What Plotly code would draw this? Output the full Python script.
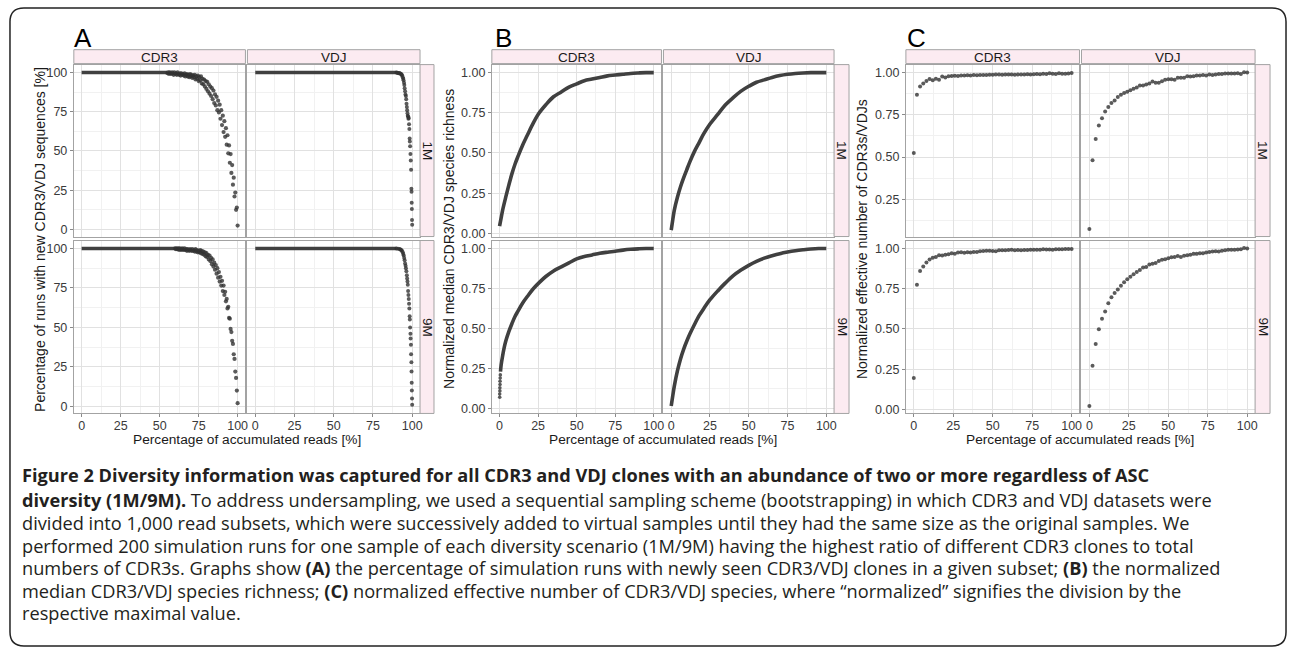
import plotly.graph_objects as go

# ---------------- data ----------------
FACET_COLS = ["CDR3", "VDJ"]
FACET_ROWS = ["1M", "9M"]
PANEL_LETTERS = ["A", "B", "C"]
X_TICKS = [0, 25, 50, 75, 100]
X_TITLE = "Percentage of accumulated reads [%]"
Y_TITLES = ["Percentage of runs with new CDR3/VDJ sequences [%]",
            "Normalized median CDR3/VDJ species richness",
            "Normalized effective number of CDR3s/VDJs"]
A_Y_TICKS = [0, 25, 50, 75, 100]
BC_Y_TICKS = [0, 0.25, 0.5, 0.75, 1.0]

# Panel A: percentage of runs with new sequences
A_CDR3_1M_FLAT_X = [0, 55]
A_CDR3_1M_FLAT_Y = [100, 100]
A_CDR3_1M_X = [55, 55.5, 56, 56.5, 57, 57.5, 58, 58.5, 59, 59.5,
               60, 60.5, 61, 61.5, 62, 62.5, 63, 63.5, 64, 64.5,
               65, 65.5, 66, 66.5, 67, 67.5, 68, 68.5, 69, 69.5,
               70, 70.5, 71, 71.5, 72, 72.5, 73, 73.5, 74, 74.5,
               75, 75.5, 76, 76.5, 77, 77.5, 78, 78.5, 79, 79.5,
               80, 80.5, 81, 81.5, 82, 82.5, 83, 83.5, 84, 84.5,
               85, 85.5, 86, 86.5, 87, 87.5, 88, 88.5, 89, 89.5,
               90, 90.5, 91, 91.5, 92, 92.5, 93, 93.5, 94, 94.5,
               95, 95.5, 96, 96.5, 97, 97.5, 98, 98.5, 99, 99.5,
               100]
A_CDR3_1M_Y = [99.5, 100, 99.0, 100, 99.5, 99.0, 100, 99.5, 98.5, 100,
               99.0, 99.5, 98.5, 100, 99.0, 98.5, 99.5, 98.0, 99.5, 98.5,
               99.0, 98.0, 99.5, 97.5, 98.5, 99.0, 97.5, 98.5, 97.0, 99.0,
               97.5, 98.5, 96.5, 98.0, 97.0, 98.5, 95.5, 97.5, 96.0, 98.0,
               94.5, 97.0, 95.0, 97.5, 93.0, 96.0, 92.5, 95.5, 91.0, 94.5,
               89.5, 94.0, 88.0, 92.5, 86.5, 91.0, 85.0, 90.0, 83.0, 88.5,
               80.5, 86.0, 79.0, 84.5, 76.0, 82.0, 74.5, 79.5, 70.5, 76.0,
               66.5, 72.5, 62.0, 69.0, 59.0, 64.5, 54.0, 60.0, 48.5, 53.5,
               42.5, 48.0, 36.0, 41.0, 28.5, 33.0, 21.0, 23.5, 12.5, 14.0,
               2.5]
A_CDR3_9M_FLAT_X = [0, 60]
A_CDR3_9M_FLAT_Y = [100, 100]
A_CDR3_9M_X = [60, 60.5, 61, 61.5, 62, 62.5, 63, 63.5, 64, 64.5,
               65, 65.5, 66, 66.5, 67, 67.5, 68, 68.5, 69, 69.5,
               70, 70.5, 71, 71.5, 72, 72.5, 73, 73.5, 74, 74.5,
               75, 75.5, 76, 76.5, 77, 77.5, 78, 78.5, 79, 79.5,
               80, 80.5, 81, 81.5, 82, 82.5, 83, 83.5, 84, 84.5,
               85, 85.5, 86, 86.5, 87, 87.5, 88, 88.5, 89, 89.5,
               90, 90.5, 91, 91.5, 92, 92.5, 93, 93.5, 94, 94.5,
               95, 95.5, 96, 96.5, 97, 97.5, 98, 98.5, 99, 99.5,
               100]
A_CDR3_9M_Y = [100, 99.5, 100, 99.5, 100, 99.0, 100, 99.5, 99.0, 100,
               99.5, 99.0, 100, 99.0, 99.5, 98.5, 99.5, 99.0, 98.5, 99.5,
               99.0, 98.5, 99.5, 98.5, 99.0, 98.0, 99.5, 98.0, 99.0, 97.5,
               98.5, 97.5, 99.0, 97.0, 98.5, 96.5, 98.0, 96.0, 97.5, 95.0,
               97.0, 94.5, 96.0, 93.0, 95.5, 92.0, 94.0, 90.0, 93.0, 88.5,
               91.0, 86.5, 89.5, 84.0, 87.5, 81.5, 85.0, 79.0, 82.0, 76.5,
               79.5, 73.0, 76.5, 70.5, 72.5, 66.5, 68.0, 62.0, 63.0, 56.0,
               55.5, 49.0, 47.0, 41.5, 39.5, 33.0, 30.0, 22.0, 18.0, 10.0,
               2.0]
A_VDJ_1M_FLAT_X = [0, 90]
A_VDJ_1M_FLAT_Y = [100, 100]
A_VDJ_1M_X = [90, 90.5, 91, 91.5, 92, 92.5, 93, 93.3, 93.6, 94,
              94.3, 94.5, 94.8, 95, 95.2, 95.5, 95.7, 96, 96.2, 96.4,
              96.6, 96.8, 97, 97.2, 97.4, 97.6, 97.8, 98, 98.2, 98.4,
              98.5, 98.7, 98.9, 99.1, 99.3, 99.5, 99.6, 99.7, 99.8, 99.9,
              100]
A_VDJ_1M_Y = [100, 99.8, 99.7, 99.5, 99.6, 99.2, 99, 98.5, 98, 97,
              96, 95, 93.5, 92, 90, 88, 86, 85, 83, 80,
              78, 76, 74, 72.5, 72, 70.5, 71, 67, 64, 58,
              56, 53, 48, 44, 38, 26, 24, 17, 13, 6,
              3]
A_VDJ_9M_FLAT_X = [0, 90]
A_VDJ_9M_FLAT_Y = [100, 100]
A_VDJ_9M_X = [90, 91, 92, 92.5, 93, 93.5, 94, 94.3, 94.6, 94.9,
              95.2, 95.5, 95.8, 96, 96.3, 96.6, 96.8, 97, 97.2, 97.4,
              97.6, 97.8, 98, 98.2, 98.4, 98.5, 98.7, 98.9, 99, 99.2,
              99.3, 99.5, 99.6, 99.7, 99.8, 99.9, 100]
A_VDJ_9M_Y = [100, 99.8, 99.6, 99.3, 99, 98.5, 97.5, 96.5, 95.5, 94,
              92.5, 90.5, 89, 87.5, 85.5, 83, 81, 79, 77, 73,
              70.5, 68, 65, 62, 57, 55, 50, 46, 43, 39,
              33, 28, 22, 15, 10, 5, 1]

# Panel B: normalized median species richness
B_CDR3_1M_X = [0, 1, 2, 4, 6, 8, 10, 12, 15, 18, 21, 25, 30, 35, 40, 45, 50, 55, 60, 65, 70, 75, 80, 85, 90, 95, 100]
B_CDR3_1M_Y = [0.045, 0.095, 0.145, 0.225, 0.30, 0.37, 0.43, 0.48, 0.55, 0.61, 0.67, 0.74, 0.80, 0.85, 0.88, 0.91,
               0.93, 0.95, 0.96, 0.97, 0.98, 0.985, 0.99, 0.995, 0.998, 1.0, 1.0]
B_VDJ_1M_X = [0, 1, 2, 4, 6, 8, 10, 12, 15, 18, 21, 25, 30, 35, 40, 45, 50, 55, 60, 65, 70, 75, 80, 85, 90, 95, 100]
B_VDJ_1M_Y = [0.02, 0.085, 0.145, 0.225, 0.29, 0.345, 0.395, 0.445, 0.51, 0.565, 0.62, 0.68, 0.74, 0.80, 0.845, 0.885,
              0.915, 0.94, 0.955, 0.97, 0.982, 0.99, 0.995, 0.998, 1.0, 1.0, 1.0]
B_CDR3_9M_X = [0.6, 1, 2, 3, 4, 6, 8, 10, 12, 15, 18, 22, 26, 30, 35, 40, 45, 50, 55, 60, 65, 70, 75, 80, 85, 90, 95, 100]
B_CDR3_9M_Y = [0.23, 0.27, 0.33, 0.38, 0.42, 0.48, 0.53, 0.575, 0.61, 0.66, 0.70, 0.75, 0.79, 0.825, 0.86, 0.885,
               0.91, 0.935, 0.95, 0.96, 0.97, 0.977, 0.983, 0.99, 0.995, 0.998, 1.0, 1.0]
B_CDR3_9M_START_X = [0.1, 0.1, 0.2, 0.2, 0.3, 0.3, 0.4, 0.5]
B_CDR3_9M_START_Y = [0.07, 0.09, 0.11, 0.13, 0.15, 0.17, 0.19, 0.21]
B_VDJ_9M_X = [0, 1, 2, 4, 6, 8, 10, 12, 15, 18, 21, 25, 30, 35, 40, 45, 50, 55, 60, 65, 70, 75, 80, 85, 90, 95, 100]
B_VDJ_9M_Y = [0.015, 0.08, 0.14, 0.235, 0.31, 0.37, 0.42, 0.465, 0.525, 0.58, 0.625, 0.68, 0.735, 0.785, 0.83, 0.865,
              0.895, 0.92, 0.94, 0.955, 0.968, 0.978, 0.986, 0.992, 0.997, 1.0, 1.0]

# Panel C: normalized effective number (one point per 2 % of reads)
C_X = [0, 2, 4, 6, 8, 10, 12, 14, 16, 18, 20, 22, 24, 26, 28, 30, 32, 34, 36, 38,
       40, 42, 44, 46, 48, 50, 52, 54, 56, 58, 60, 62, 64, 66, 68, 70, 72, 74, 76, 78,
       80, 82, 84, 86, 88, 90, 92, 94, 96, 98, 100]
C_CDR3_1M = [0.524, 0.869, 0.918, 0.935, 0.950, 0.962, 0.955, 0.963, 0.958, 0.977,
             0.970, 0.978, 0.979, 0.981, 0.980, 0.983, 0.983, 0.984, 0.983, 0.986,
             0.984, 0.985, 0.986, 0.986, 0.987, 0.987, 0.988, 0.988, 0.987, 0.989,
             0.988, 0.988, 0.987, 0.988, 0.989, 0.989, 0.990, 0.988, 0.990, 0.991,
             0.990, 0.993, 0.992, 0.996, 0.993, 0.991, 0.996, 0.993, 0.993, 0.994,
             0.998]
C_CDR3_9M = [0.195, 0.775, 0.860, 0.888, 0.914, 0.932, 0.943, 0.947, 0.958, 0.957,
             0.961, 0.965, 0.971, 0.968, 0.975, 0.977, 0.974, 0.977, 0.976, 0.979,
             0.978, 0.983, 0.985, 0.986, 0.986, 0.985, 0.984, 0.989, 0.990, 0.989,
             0.991, 0.992, 0.989, 0.991, 0.990, 0.991, 0.991, 0.992, 0.992, 0.993,
             0.993, 0.996, 0.994, 0.994, 0.993, 0.995, 0.996, 0.996, 0.997, 0.998,
             0.998]
C_VDJ_1M = [0.074, 0.481, 0.607, 0.687, 0.730, 0.769, 0.796, 0.820, 0.834, 0.855,
            0.869, 0.879, 0.886, 0.896, 0.904, 0.912, 0.924, 0.924, 0.930, 0.935,
            0.947, 0.939, 0.939, 0.949, 0.957, 0.961, 0.961, 0.957, 0.969, 0.969,
            0.969, 0.978, 0.976, 0.978, 0.982, 0.982, 0.986, 0.982, 0.988, 0.986,
            0.988, 0.992, 0.992, 0.994, 0.994, 0.994, 0.994, 0.996, 0.992, 1.002,
            1.000]
C_VDJ_9M = [0.021, 0.272, 0.406, 0.499, 0.563, 0.608, 0.660, 0.697, 0.724, 0.746,
            0.769, 0.790, 0.810, 0.825, 0.841, 0.854, 0.866, 0.882, 0.885, 0.901,
            0.905, 0.911, 0.922, 0.930, 0.934, 0.940, 0.946, 0.948, 0.953, 0.948,
            0.955, 0.959, 0.961, 0.967, 0.967, 0.971, 0.971, 0.975, 0.979, 0.981,
            0.984, 0.981, 0.986, 0.990, 0.992, 0.992, 0.992, 0.994, 0.996, 1.004,
            1.000]

CAPTION = [
    "<b>Figure 2 Diversity information was captured for all CDR3 and VDJ clones with an abundance of two or more regardless of ASC</b>",
    "<b>diversity (1M/9M).</b> To address undersampling, we used a sequential sampling scheme (bootstrapping) in which CDR3 and VDJ datasets were",
    "divided into 1,000 read subsets, which were successively added to virtual samples until they had the same size as the original samples. We",
    "performed 200 simulation runs for one sample of each diversity scenario (1M/9M) having the highest ratio of different CDR3 clones to total",
    "numbers of CDR3s. Graphs show <b>(A)</b> the percentage of simulation runs with newly seen CDR3/VDJ clones in a given subset; <b>(B)</b> the normalized",
    "median CDR3/VDJ species richness; <b>(C)</b> normalized effective number of CDR3/VDJ species, where \u201cnormalized\u201d signifies the division by the",
    "respective maximal value.",
]

# ---------------- geometry / style ----------------
W, H = 1293, 653


def fx(px):
    return px / W


def fy(py):
    return 1 - py / H


GROUP_COLS = [[(74, 246), (248, 421)], [(493, 663), (665, 836)], [(908, 1082), (1084, 1258)]]
GROUP_RSTRIP = [(421, 435), (836, 851), (1258, 1273)]
ROWS = [(65, 238), (242, 416)]
TOP_STRIP = (50, 64)
Y_RANGES = [[(-4.5, 105), (-4.5, 105)], [(-0.02, 1.05), (-0.031, 1.05)], [(0.03, 1.047), (-0.025, 1.05)]]
YTITLE_X = [40, 450, 864]
LETTER_X = [72, 494, 907]

FONT = "Liberation Sans, Arial, sans-serif"
GRID = "#e1e1e1"
MINOR = "#f1f1f1"
BORDER = "#a3a3a3"
STRIP_FILL = "#fcebf1"
PT_COLOR = "rgba(50,50,50,0.8)"
LINE_COLOR = "#404040"
TICKFONT = dict(family=FONT, size=12.5, color="#3a3a3a")

fig = go.Figure()


def idx(g, r, c):
    return g * 4 + r * 2 + c + 1


def ax(i, kind):
    return kind if i == 1 else f"{kind}{i}"


def points(i, x, y, size=4.5):
    fig.add_trace(go.Scatter(x=x, y=y, mode="markers", xaxis=ax(i, "x"), yaxis=ax(i, "y"),
                             marker=dict(color=PT_COLOR, size=size, line_width=0),
                             showlegend=False, hoverinfo="skip"))


def line(i, x, y, width, shape="linear"):
    fig.add_trace(go.Scatter(x=x, y=y, mode="lines", xaxis=ax(i, "x"), yaxis=ax(i, "y"),
                             line=dict(color=LINE_COLOR, width=width, shape=shape),
                             showlegend=False, hoverinfo="skip"))


# Panel A
line(idx(0, 0, 0), A_CDR3_1M_FLAT_X, A_CDR3_1M_FLAT_Y, 3.5)
points(idx(0, 0, 0), A_CDR3_1M_X, A_CDR3_1M_Y, 4.2)
line(idx(0, 0, 1), A_VDJ_1M_FLAT_X, A_VDJ_1M_FLAT_Y, 3.5)
points(idx(0, 0, 1), A_VDJ_1M_X, A_VDJ_1M_Y, 4)
line(idx(0, 1, 0), A_CDR3_9M_FLAT_X, A_CDR3_9M_FLAT_Y, 3.5)
points(idx(0, 1, 0), A_CDR3_9M_X, A_CDR3_9M_Y, 4.2)
line(idx(0, 1, 1), A_VDJ_9M_FLAT_X, A_VDJ_9M_FLAT_Y, 3.5)
points(idx(0, 1, 1), A_VDJ_9M_X, A_VDJ_9M_Y, 4)

# Panel B
line(idx(1, 0, 0), B_CDR3_1M_X, B_CDR3_1M_Y, 3.6, "spline")
line(idx(1, 0, 1), B_VDJ_1M_X, B_VDJ_1M_Y, 3.6, "spline")
line(idx(1, 1, 0), B_CDR3_9M_X, B_CDR3_9M_Y, 3.6, "spline")
points(idx(1, 1, 0), B_CDR3_9M_START_X, B_CDR3_9M_START_Y, 3.6)
line(idx(1, 1, 1), B_VDJ_9M_X, B_VDJ_9M_Y, 3.6, "spline")

# Panel C
points(idx(2, 0, 0), C_X, C_CDR3_1M, 4)
points(idx(2, 0, 1), C_X, C_VDJ_1M, 4)
points(idx(2, 1, 0), C_X, C_CDR3_9M, 4)
points(idx(2, 1, 1), C_X, C_VDJ_9M, 4)

layout = {}
shapes = []
annotations = []

for g in range(3):
    for r in range(2):
        for c in range(2):
            i = idx(g, r, c)
            x0, x1 = GROUP_COLS[g][c]
            y0, y1 = ROWS[r]
            if g == 0:
                yt = A_Y_TICKS
                ytext = [str(v) for v in yt]
                ymin = [12.5, 37.5, 62.5, 87.5]
            else:
                yt = BC_Y_TICKS
                ytext = [f"{v:.2f}" for v in yt]
                ymin = [0.125, 0.375, 0.625, 0.875]
            common = dict(showgrid=True, gridcolor=GRID, gridwidth=1, zeroline=False,
                          showline=True, mirror=True, linecolor=BORDER, linewidth=1,
                          tickfont=TICKFONT, ticklen=3, tickwidth=1, tickcolor="#8a8a8a",
                          fixedrange=True, tickmode="array")
            layout[ax(i, "xaxis")] = dict(
                domain=[fx(x0), fx(x1)], range=[-5, 105], anchor=ax(i, "y"),
                tickvals=X_TICKS, ticktext=[str(v) for v in X_TICKS],
                showticklabels=(r == 1), ticks="outside" if r == 1 else "",
                ticklabelstandoff=-2,
                minor=dict(tickmode="array", tickvals=[12.5, 37.5, 62.5, 87.5], showgrid=True,
                           gridcolor=MINOR, gridwidth=0.6, ticks=""),
                **common)
            layout[ax(i, "yaxis")] = dict(
                domain=[fy(y1), fy(y0)], range=list(Y_RANGES[g][r]), anchor=ax(i, "x"),
                tickvals=yt, ticktext=ytext,
                showticklabels=(c == 0), ticks="outside" if c == 0 else "",
                minor=dict(tickmode="array", tickvals=ymin, showgrid=True,
                           gridcolor=MINOR, gridwidth=0.6, ticks=""),
                **common)

    # top strips
    for c in range(2):
        x0, x1 = GROUP_COLS[g][c]
        shapes.append(dict(type="rect", xref="paper", yref="paper",
                           x0=fx(x0), x1=fx(x1), y0=fy(TOP_STRIP[1]), y1=fy(TOP_STRIP[0]),
                           fillcolor=STRIP_FILL, line=dict(color=BORDER, width=1)))
        annotations.append(dict(text=FACET_COLS[c], xref="paper", yref="paper",
                                x=fx((x0 + x1) / 2), y=fy((TOP_STRIP[0] + TOP_STRIP[1]) / 2 + 0.5),
                                xanchor="center", yanchor="middle", showarrow=False,
                                font=dict(family=FONT, size=13.5, color="#1a1a1a")))
    # right strips
    for r in range(2):
        sx0, sx1 = GROUP_RSTRIP[g]
        y0, y1 = ROWS[r]
        shapes.append(dict(type="rect", xref="paper", yref="paper",
                           x0=fx(sx0), x1=fx(sx1), y0=fy(y1), y1=fy(y0),
                           fillcolor=STRIP_FILL, line=dict(color=BORDER, width=1)))
        annotations.append(dict(text=FACET_ROWS[r], xref="paper", yref="paper",
                                x=fx((sx0 + sx1) / 2), y=fy((y0 + y1) / 2), textangle=90,
                                xanchor="center", yanchor="middle", showarrow=False,
                                font=dict(family=FONT, size=13.5, color="#1a1a1a")))
    # letters
    annotations.append(dict(text=PANEL_LETTERS[g], xref="paper", yref="paper",
                            x=fx(LETTER_X[g]), y=fy(38), xanchor="left", yanchor="middle",
                            showarrow=False, font=dict(family=FONT, size=26, color="#000000")))
    # axis titles
    gx0 = GROUP_COLS[g][0][0]
    gx1 = GROUP_COLS[g][1][1]
    annotations.append(dict(text=X_TITLE, xref="paper", yref="paper", borderpad=0,
                            x=fx((gx0 + gx1) / 2), y=fy(442.5), xanchor="center", yanchor="middle",
                            showarrow=False, font=dict(family=FONT, size=13.7, color="#1a1a1a")))
    annotations.append(dict(text=Y_TITLES[g], xref="paper", yref="paper", textangle=-90,
                            x=fx(YTITLE_X[g]), y=fy((ROWS[0][0] + ROWS[1][1]) / 2),
                            xanchor="center", yanchor="middle",
                            showarrow=False, font=dict(family=FONT, size=14, color="#1a1a1a")))

# caption
CAP_Y = [478, 503, 526, 549, 572, 595, 617]
for k, txt in enumerate(CAPTION):
    annotations.append(dict(text=txt, xref="paper", yref="paper", x=fx(20), y=fy(CAP_Y[k]),
                            xanchor="left", yanchor="middle", align="left", showarrow=False,
                            font=dict(family="Open Sans, sans-serif", size=18.2,
                                      color="#231f20")))

# rounded outer frame
bx0, by0, bx1, by1, rr = 10, 8, 1289, 650, 14
path = (f"M {fx(bx0 + rr)},{fy(by0)} L {fx(bx1 - rr)},{fy(by0)} "
        f"Q {fx(bx1)},{fy(by0)} {fx(bx1)},{fy(by0 + rr)} "
        f"L {fx(bx1)},{fy(by1 - rr)} Q {fx(bx1)},{fy(by1)} {fx(bx1 - rr)},{fy(by1)} "
        f"L {fx(bx0 + rr)},{fy(by1)} Q {fx(bx0)},{fy(by1)} {fx(bx0)},{fy(by1 - rr)} "
        f"L {fx(bx0)},{fy(by0 + rr)} Q {fx(bx0)},{fy(by0)} {fx(bx0 + rr)},{fy(by0)} Z")
shapes.append(dict(type="path", xref="paper", yref="paper", path=path,
                   line=dict(color="#222222", width=1.5), fillcolor="rgba(0,0,0,0)"))

fig.update_layout(width=W, height=H, autosize=False,
                  margin=dict(l=0, r=0, t=0, b=0),
                  paper_bgcolor="white", plot_bgcolor="white",
                  shapes=shapes, annotations=annotations, **layout)

fig.write_html("out.html", config={"displayModeBar": False},
               post_script="document.body.style.margin='0';document.body.style.overflow='hidden';")
